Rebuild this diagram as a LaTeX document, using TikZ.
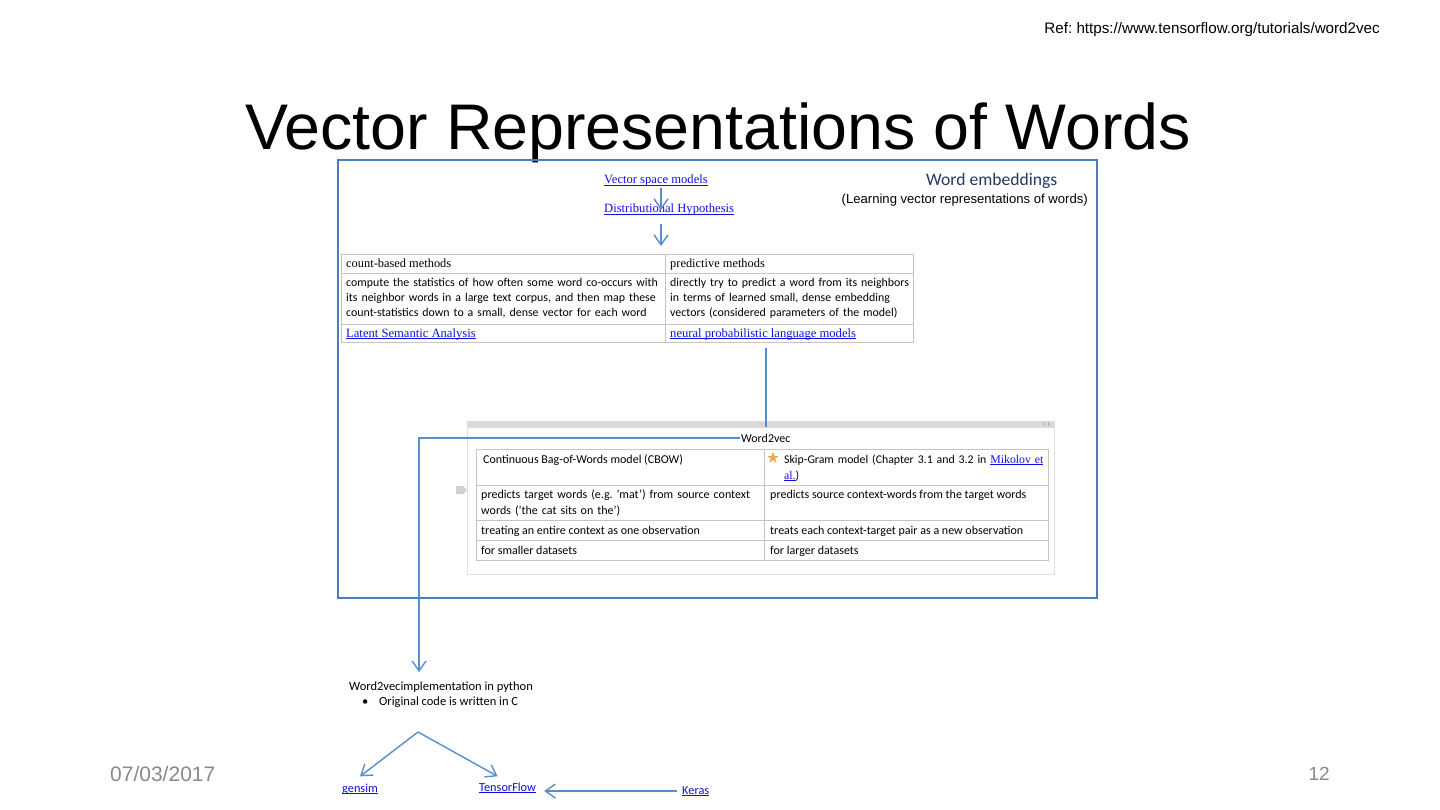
\documentclass[tikz,border=0pt]{standalone}
\usepackage{fontspec}
\setmainfont{Carlito}
\newfontfamily\tnr{Liberation Serif}
\newfontfamily\arl{Liberation Sans}
\newfontfamily\djv{DejaVu Sans}
\usepackage{xcolor}
\usepackage{tikz}
\usetikzlibrary{arrows.meta}
\frenchspacing

\definecolor{arrowblue}{RGB}{88,142,204}
\definecolor{frameblue}{RGB}{74,126,187}
\definecolor{linkblue}{RGB}{16,16,225}
\definecolor{tblgray}{RGB}{196,196,196}
\definecolor{barfill}{RGB}{218,218,218}
\definecolor{headblue}{RGB}{36,58,98}
\definecolor{dategray}{RGB}{137,137,137}
\definecolor{starorange}{RGB}{232,172,86}
\newsavebox{\lnkbox}
\newcommand{\lnk}[1]{\leavevmode\sbox{\lnkbox}{#1}\rlap{\rule[-2pt]{\wd\lnkbox}{0.8pt}}\usebox{\lnkbox}}

\begin{document}
\begin{tikzpicture}[x=1pt,y=-1pt,
  txt/.style={inner sep=1pt,anchor=base west},
  body/.style={txt,font=\fontsize{11.9}{15}\selectfont,align=left},
  wtxt/.style={txt,font=\fontsize{12}{16}\selectfont,align=left},
  link/.style={txt,font=\tnr\fontsize{12.6}{14}\selectfont,text=linkblue},
  clink/.style={txt,font=\fontsize{12.3}{14}\selectfont,text=linkblue},
  arr/.style={draw=arrowblue,line width=1.4pt,-{Straight Barb[length=10pt,width=14pt]}},
  grid/.style={draw=tblgray,line width=0.8pt}]
\useasboundingbox[fill=white] (0,0) rectangle (1440,810);

\node[anchor=base east,inner sep=0pt,font=\arl\fontsize{15.2}{17}\selectfont] (ref) at (1380,34) {Ref: https://www.tensorflow.org/tutorials/word2vec};
\node[anchor=base,inner sep=0pt,font=\arl\fontsize{64.5}{70}\selectfont] (title) at (718,150) {Vector Representations of Words};

\draw[frameblue,line width=1.5pt] (338,160) rectangle (1097,598);
\node[txt,font=\fontsize{17.6}{20}\selectfont,text=headblue] (emb) at (925,186) {Word embeddings};
\node[anchor=base east,inner sep=1pt,font=\arl\fontsize{13.1}{15}\selectfont] (learn) at (1089,204) {(Learning vector representations of words)};

\node[link] (vsm) at (603,184) {\lnk{Vector space models}};
\node[link] (dh) at (603,213) {\lnk{Distributional Hypothesis}};
\coordinate (tbltop) at (661,246);

% count-based vs predictive
\draw[grid] (341,254) rectangle (913,342) (665,254) -- (665,342)
  (341,273) -- (913,273) (341,324) -- (913,324);
\node[txt,font=\tnr\fontsize{12.4}{14}\selectfont] (cnt) at (345,268) {count-based methods};
\node[txt,font=\tnr\fontsize{12.4}{14}\selectfont] (pred) at (669,268) {predictive methods};
\node[body,text width=318pt] (cntdesc) at (345,287) {compute the statistics of how often some word co-occurs with\\its neighbor words in a large text corpus, and then map these\\count-statistics down to a small, dense vector for each word};
\node[body,text width=240pt] (preddesc) at (669,287) {directly try to predict a word from its neighbors\\in terms of learned small, dense embedding\\vectors (considered parameters of the model)};
\node[link] (lsa) at (345,337) {\lnk{Latent Semantic Analysis}};
\node[link] (nplm) at (669,337) {\lnk{neural probabilistic language models}};

% Word2vec box
\draw[draw=black!12,line width=0.8pt] (467,421) rectangle (1054,574);
\fill[barfill] (467,421) rectangle (1054,428);
\foreach \i in {0,...,4}{\fill[gray!70] (759+2.5*\i,424) circle (0.5);}
\fill[gray!60] (1045,422) -- (1045,426) -- (1043,424) -- cycle (1048,422) -- (1048,426) -- (1050,424) -- cycle;
\coordinate (handle) at (766,427);
\node[txt,font=\fontsize{12}{14}\selectfont] (w2v) at (740,442) {Word2vec};
\fill[black!18] (456,486) -- (463,486) -- (467,490) -- (463,494) -- (456,494) -- cycle;
\draw[grid] (476,449) rectangle (1048,560) (764,449) -- (764,560)
  (476,485) -- (1048,485) (476,520) -- (1048,520) (476,540) -- (1048,540);
\node[wtxt] (cbow) at (482,463) {Continuous Bag-of-Words model (CBOW)};
\node[inner sep=0pt,font=\djv\fontsize{16}{16}\selectfont,text=starorange] (star) at (773,458) {★};
\node[wtxt,font=\fontsize{11.8}{16}\selectfont,text width=275pt] (skip) at (783,463) {Skip-Gram model (Chapter 3.1 and 3.2 in {\tnr\color{linkblue}\lnk{Mikolov et}}\\{\tnr\color{linkblue}\lnk{al.}})};
\node[wtxt,text width=280pt] (cbowpred) at (480,498) {predicts target words (e.g. 'mat') from source context\\words ('the cat sits on the')};
\node[wtxt] (skippred) at (769,498) {predicts source context-words from the target words};
\node[wtxt] (cbowobs) at (480,534) {treating an entire context as one observation};
\node[wtxt] (skipobs) at (769,534) {treats each context-target pair as a new observation};
\node[wtxt] (cbowdata) at (480,554) {for smaller datasets};
\node[wtxt] (skipdata) at (769,554) {for larger datasets};

% implementation
\node[txt,font=\fontsize{12.5}{16}\selectfont] (impl) at (348,690) {Word2vecimplementation in python};
\node[txt,font=\fontsize{12.5}{16}\selectfont] (bullet) at (361,705) {•};
\node[txt,font=\fontsize{12.5}{16}\selectfont] (orig) at (378,705) {Original code is written in C};
\coordinate (split) at (418,732);
\node[clink] (gensim) at (341,792) {\lnk{gensim}};
\node[clink] (tf) at (478,791) {\lnk{TensorFlow}};
\node[clink] (keras) at (681,794) {\lnk{Keras}};

\node[anchor=base west,inner sep=0pt,font=\arl\fontsize{21}{22}\selectfont,text=dategray] (date) at (110,781) {07/03/2017};
\node[anchor=base east,inner sep=0pt,font=\arl\fontsize{19}{20}\selectfont,text=dategray] (page) at (1330,780) {12};

\draw[arr] (vsm.south -| tbltop) -- (tbltop |- dh.center);
\draw[arr] ([yshift=-7pt]dh.south -| tbltop) -- (tbltop);
\draw[draw=arrowblue,line width=1.4pt] ([yshift=-7pt]nplm.south -| handle) -- (handle);
\draw[arr] (w2v.west) -| ([xshift=-22pt,yshift=8pt]impl.north);
\draw[arr] (split) -- ([yshift=6pt]gensim.north);
\draw[arr] (split) -- ([xshift=-10pt,yshift=5pt]tf.north);
\draw[arr] ([xshift=-4pt]keras.west) -- ([xshift=7pt]tf.east |- keras.west);
\end{tikzpicture}
\end{document}
